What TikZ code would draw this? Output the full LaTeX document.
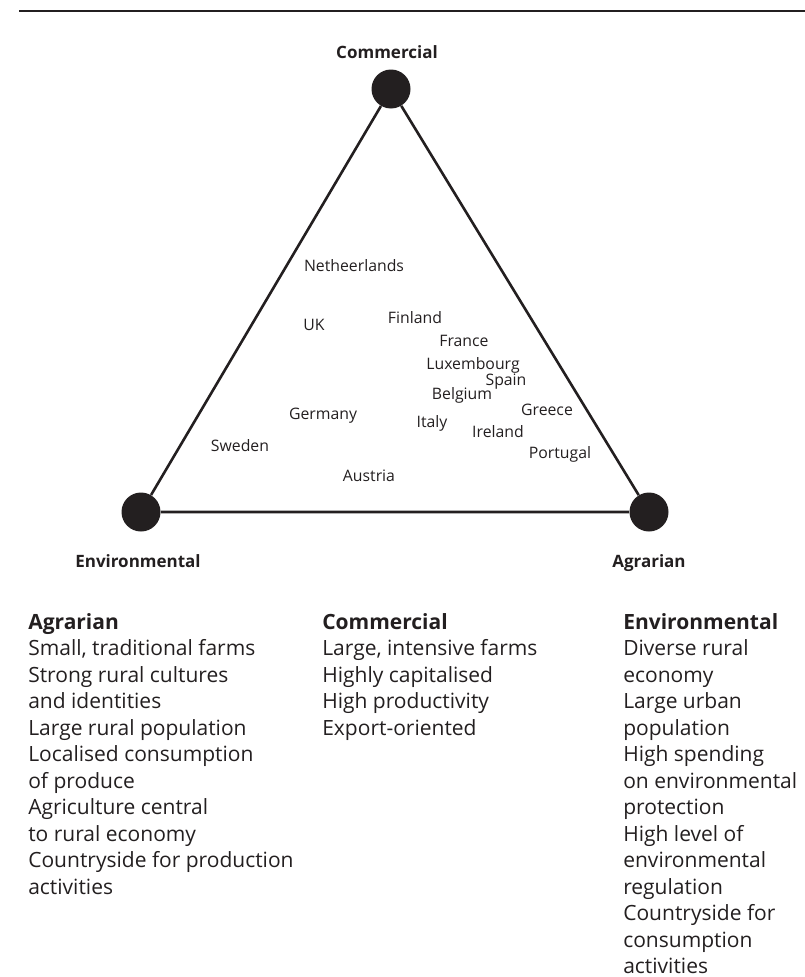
\documentclass[tikz,border=0pt]{standalone}
\usepackage{fontspec}
\setmainfont{Open Sans}
\usetikzlibrary{positioning}
\definecolor{ink}{HTML}{231F20}

\begin{document}
\begin{tikzpicture}[x=1pt,y=-1pt,semithick,
  vertex/.style={circle,fill=ink,minimum size=39pt,inner sep=0pt},
  pole/.style={anchor=base,font=\bfseries\fontsize{17}{20}\selectfont,text=ink},
  country/.style={font=\fontsize{15.8}{18}\selectfont,text=ink,inner sep=0pt},
  column/.style={anchor=north west,align=left,inner sep=0pt,text=ink,
    font=\fontsize{21}{26.5}\selectfont}]
\useasboundingbox (0,0) rectangle (805,977);
\draw[line width=2pt,ink] (19,10.5)--(805,10.5);
% the three poles
\node[vertex] (Com) at (391,89) {};
\node[vertex] (Env) at (141,512) {};
\node[vertex] (Agr) at (649,512) {};
\node[pole] (lCom) at (387,58) {Commercial};
\node[pole] (lEnv) at (138,567) {Environmental};
\node[pole] (lAgr) at (649,567) {Agrarian};
\draw[line width=2.6pt,ink](Com)--(Env)(Env)--(Agr)(Agr)--(Com);
% member states
\node[country] (NL) at (354,266) {Netheerlands};
\node[country] (UK) at (314,325) {UK};
\node[country] (FI) at (415,318) {Finland};
\node[country] (FR) at (464,341) {France};
\node[country] (LU) at (473,365) {Luxembourg};
\node[country] (ES) at (506,382) {Spain};
\node[country] (BE) at (462,395) {Belgium};
\node[country] (GR) at (547,410) {Greece};
\node[country] (DE) at (323,416) {Germany};
\node[country] (IT) at (432,423) {Italy};
\node[country] (IE) at (498,432) {Ireland};
\node[country] (SE) at (240,446) {Sweden};
\node[country] (PT) at (560,454) {Portugal};
\node[country] (AT) at (369,476) {Austria};
% characteristics
\node[column] (tAgr) at (28,613) {\textbf{Agrarian}\\Small, traditional farms\\Strong rural cultures\\
  and identities\\Large rural population\\Localised consumption\\of produce\\
  Agriculture central\\to rural economy\\Countryside for production\\activities};
\node[column] (tCom) at (322,613) {\textbf{Commercial}\\Large, intensive farms\\Highly capitalised\\
  High productivity\\Export-oriented};
\node[column] (tEnv) at (623,613) {\textbf{Environmental}\\Diverse rural\\economy\\Large urban\\
  population\\High spending\\on environmental\\protection\\High level of\\environmental\\
  regulation\\Countryside for\\consumption\\activities};
\end{tikzpicture}
\end{document}
